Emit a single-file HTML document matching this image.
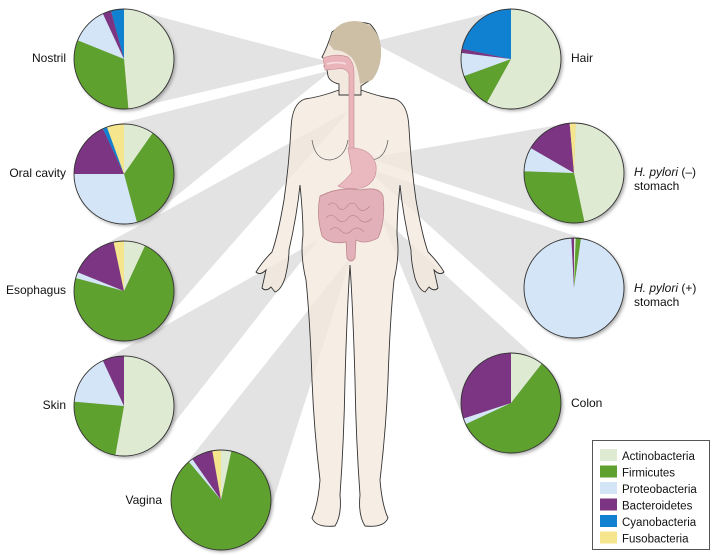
<!DOCTYPE html>
<html><head><meta charset="utf-8"><style>
html,body{margin:0;padding:0;background:#fff;}
svg{display:block;font-family:"Liberation Sans",Arial,sans-serif;}
</style></head><body>
<svg id="s" width="715" height="555" viewBox="0 0 715 555" xmlns="http://www.w3.org/2000/svg">
<defs>
<filter id="sh" x="-20%" y="-20%" width="150%" height="150%"><feGaussianBlur stdDeviation="1.5"/></filter>
</defs>
<g id="rays" fill="#e3e3e3"></g>
<g id="body">
  <path id="bl" fill="#f3e8dd" d="M350,90 L339,90 Q320,97 305,99 Q292,103 291,128 Q289,165 284,200 Q278,235 272,252 Q262,262 256,272 Q260,276 266,270 L262,288 Q266,292 271,287 L275,292 Q281,290 285,278 Q289,262 289,250 Q297,215 300,185 Q303,215 303,235 Q300,255 306,280 Q310,320 312,380 Q314,430 320,480 Q318,505 312,518 Q316,528 335,526 Q342,515 340,495 Q344,440 345,380 Q347,310 350,265 Z" opacity="0.78"/>
  <use href="#bl" transform="translate(700,0) scale(-1,1)"/>
  <path id="bs" fill="none" stroke="#333" stroke-width="0.9" d="M339,86 L339,90 Q320,97 305,99 Q292,103 291,128 Q289,165 284,200 Q278,235 272,252 Q262,262 256,272 Q260,276 266,270 L262,288 Q266,292 271,287 L275,292 Q281,290 285,278 Q289,262 289,250 Q297,215 300,185 Q303,215 303,235 Q300,255 306,280 Q310,320 312,380 Q314,430 320,480 Q318,505 312,518 Q316,528 335,526 Q342,515 340,495 Q344,440 345,380 Q347,310 350,265"/>
  <use href="#bs" transform="translate(700,0) scale(-1,1)"/>
  <path d="M312,140 Q315,160 330,160 Q345,158 348,140 M352,140 Q355,160 370,160 Q385,160 388,140" fill="none" stroke="#555" stroke-width="0.7"/>
  <!-- head -->
  <path d="M332,32 Q350,18 370,24 Q382,36 380,58 Q378,72 370,80 L361,86 L361,95 L339,95 L339,84 Q330,82 328,76 L327,70 L324,66 L327,62 L322,57 Q327,48 332,32 Z" fill="#f3e8dd" stroke="#333" stroke-width="0.9"/>
  <path d="M329,44 Q332,22 354,21 Q378,22 381,48 Q382,68 372,80 L360,84 Q358,66 352,58 Q344,50 334,50 Z" fill="#cdbfa5"/>
  <!-- organs -->
  <path d="M323,58 Q336,53 348,57 Q354,63 354,72 L354,150 L349,150 L349,74 Q346,67 337,69 L325,70 Z" fill="#e9b4ba" stroke="#c48a92" stroke-width="0.6"/>
  <path d="M327,64 Q338,61 346,64" fill="none" stroke="#f6dde0" stroke-width="1.5"/>
  <path d="M348,148 L355,148 Q372,150 376,165 Q378,182 362,188 Q345,190 338,186 Q346,180 352,172 Q350,160 348,148 Z" fill="#eab9c0" stroke="#c48a92" stroke-width="0.6"/>
  <path d="M320,196 Q340,186 360,190 Q380,186 383,196 Q386,220 378,238 Q365,245 356,240 L355,258 Q351,264 347,258 L346,242 Q330,245 322,236 Q316,215 320,196 Z" fill="#e2b0b8" stroke="#b98088" stroke-width="0.7"/>
  <path d="M328,205 q6,-5 10,2 q5,6 10,-2 q6,-5 10,3 q5,6 12,-2 M326,218 q6,-6 11,1 q6,6 11,-1 q6,-6 12,2 q6,5 12,-2 M330,230 q6,-5 11,1 q6,5 11,-1 q6,-5 12,2" fill="none" stroke="#b98088" stroke-width="0.6"/>
</g>
<g id="pies"></g>
<g font-size="12" fill="#111">
  <text x="66" y="62" text-anchor="end">Nostril</text>
  <text x="66" y="177" text-anchor="end">Oral cavity</text>
  <text x="66" y="294" text-anchor="end">Esophagus</text>
  <text x="66" y="409" text-anchor="end">Skin</text>
  <text x="162" y="504" text-anchor="end">Vagina</text>
  <text x="571" y="62">Hair</text>
  <text x="634" y="176"><tspan font-style="italic">H. pylori</tspan> (–)</text>
  <text x="634" y="190">stomach</text>
  <text x="634" y="292"><tspan font-style="italic">H. pylori</tspan> (+)</text>
  <text x="634" y="306">stomach</text>
  <text x="571" y="407">Colon</text>
</g>
<g>
  <rect x="592.5" y="440.5" width="117" height="109" fill="#fff" stroke="#555" stroke-width="1"/>
  <rect x="600" y="449" width="17" height="12" fill="#dfead3"/>
  <rect x="600" y="465.5" width="17" height="12" fill="#5fa12e"/>
  <rect x="600" y="482" width="17" height="12" fill="#d3e5f6"/>
  <rect x="600" y="498.5" width="17" height="12" fill="#7b3582"/>
  <rect x="600" y="515" width="17" height="12" fill="#1080d0"/>
  <rect x="600" y="531.5" width="17" height="12" fill="#f5e58c"/>
  <g font-size="11.5" fill="#111">
    <text x="622" y="460">Actinobacteria</text>
    <text x="622" y="476.5">Firmicutes</text>
    <text x="622" y="493">Proteobacteria</text>
    <text x="622" y="509.5">Bacteroidetes</text>
    <text x="622" y="526">Cyanobacteria</text>
    <text x="622" y="542.5">Fusobacteria</text>
  </g>
</g>
</svg>
<script>
var C={a:"#dfead3",f:"#5fa12e",p:"#d3e5f6",b:"#7b3582",c:"#1080d0",u:"#f5e58c"};
var pies=[
 {x:124,y:59,r:50,s:[["a",0,175],["f",175,292],["p",292,335],["b",335,345],["c",345,360]],P:[330,62]},
 {x:124,y:174,r:50,s:[["a",0,35],["f",35,165],["p",165,270],["b",270,335],["c",335,340],["u",340,360]],P:[332,70]},
 {x:124,y:291,r:50,s:[["a",0,25],["f",25,285],["p",285,292],["b",292,348],["u",348,360]],P:[350,110]},
 {x:124,y:406,r:50,s:[["a",0,190],["f",190,275],["p",275,335],["b",335,360]],P:[318,240]},
 {x:221,y:500,r:50,s:[["a",0,12],["f",12,320],["p",320,325],["b",325,350],["u",350,360]],P:[352,255]},
 {x:511,y:59,r:50,s:[["a",0,209],["f",209,250],["p",250,277],["b",277,282],["c",282,360]],P:[372,42]},
 {x:574,y:173,r:50,s:[["a",2,168],["f",168,272],["p",272,300],["b",300,355],["u",355,362]],P:[368,158]},
 {x:574,y:288,r:50,s:[["a",0,2],["f",2,8],["p",8,357],["b",357,360]],P:[365,168]},
 {x:511,y:403,r:50,s:[["a",0,38],["f",38,245],["p",245,252],["b",252,360]],P:[380,215]}
];
var NS="http://www.w3.org/2000/svg";
function el(t,a,p){var e=document.createElementNS(NS,t);for(var k in a)e.setAttribute(k,a[k]);p.appendChild(e);return e;}
function pt(cx,cy,r,d){var t=(d-90)*Math.PI/180;return [cx+r*Math.cos(t),cy+r*Math.sin(t)];}
var rays=document.getElementById("rays"),pg=document.getElementById("pies");
pies.forEach(function(q){
 var dx=q.P[0]-q.x,dy=q.P[1]-q.y,d=Math.sqrt(dx*dx+dy*dy),a=Math.atan2(dy,dx),th=Math.acos(q.r/d);
 var t1=[q.x+q.r*Math.cos(a+th),q.y+q.r*Math.sin(a+th)],t2=[q.x+q.r*Math.cos(a-th),q.y+q.r*Math.sin(a-th)];
 el("polygon",{points:q.P.join(",")+" "+t1.join(",")+" "+t2.join(",")},rays);
 el("circle",{cx:q.x+2,cy:q.y+2,r:q.r,fill:"#777",opacity:"0.6",filter:"url(#sh)"},pg);
 q.s.forEach(function(s){
  var p1=pt(q.x,q.y,q.r,s[1]),p2=pt(q.x,q.y,q.r,s[2]),lg=(s[2]-s[1])>180?1:0;
  el("path",{d:"M"+q.x+","+q.y+" L"+p1.join(",")+" A"+q.r+","+q.r+" 0 "+lg+" 1 "+p2.join(",")+" Z",fill:C[s[0]]},pg);
 });
 el("circle",{cx:q.x,cy:q.y,r:q.r,fill:"none",stroke:"#333","stroke-width":"0.9"},pg);
});
</script>
</body></html>
